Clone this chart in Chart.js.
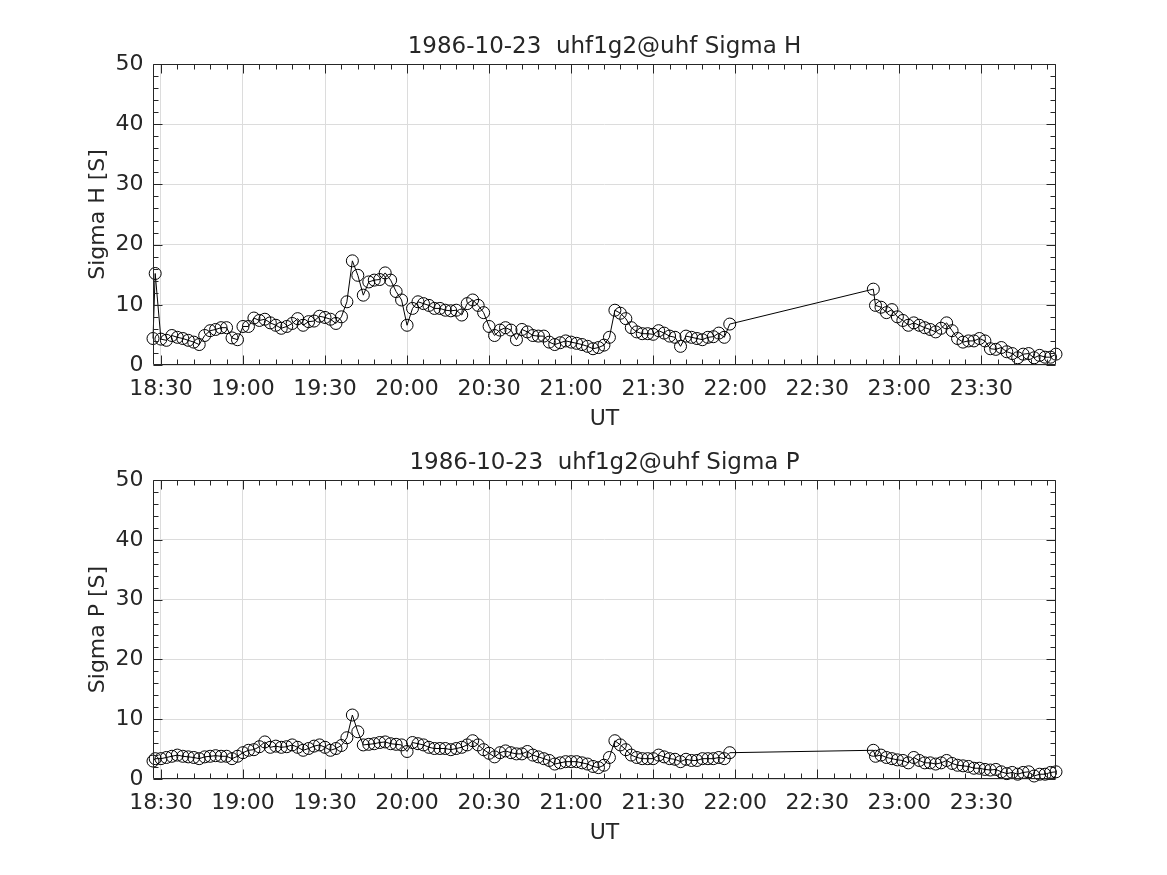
<!DOCTYPE html>
<html>
<head>
<meta charset="utf-8">
<script src="https://cdn.jsdelivr.net/npm/chart.js@4.4.1/dist/chart.umd.min.js"></script>
<style>
  body { margin: 0; background: #fff; }
  canvas { position: absolute; left: 0; }
  #sigmaH { top: 0; }
  #sigmaP { top: 416px; }
</style>
</head>
<body>
<canvas id="sigmaH" width="1167" height="435"></canvas>
<canvas id="sigmaP" width="1167" height="435"></canvas>
<script>
// time axis: minutes after 18:00 UT
// two short lead samples, then a 2-minute cadence in each block
const lead1 = [27.1, 27.9];
const block1Start = 30, block1Step = 2;
const lead2 = [290.5];
const block2Start = 291.3, block2Step = 2;

const sigmaH1 = [4.4, 15.2,
  4.3, 4.1, 4.9, 4.6, 4.4, 4.1, 3.8, 3.4, 4.9, 5.7, 5.9, 6.2, 6.2, 4.5, 4.2,
  6.4, 6.4, 7.8, 7.4, 7.6, 7.0, 6.6, 6.1, 6.4, 6.9, 7.7, 6.6, 7.2, 7.3, 8.1,
  7.9, 7.6, 6.9, 8.0, 10.5, 17.3, 14.9, 11.6, 13.8, 14.1, 14.2, 15.3, 14.1, 12.2, 10.8,
  6.6, 9.4, 10.5, 10.2, 9.9, 9.4, 9.4, 9.1, 9.0, 9.1, 8.3, 10.2, 10.8, 9.9, 8.7,
  6.4, 4.9, 5.8, 6.2, 5.8, 4.2, 5.9, 5.5, 4.9, 4.8, 4.8, 3.8, 3.4, 3.7, 4.0,
  3.8, 3.6, 3.4, 3.1, 2.7, 2.9, 3.3, 4.6, 9.1, 8.6, 7.7, 6.2, 5.5, 5.2, 5.2,
  5.1, 5.7, 5.3, 4.8, 4.6, 3.1, 4.8, 4.6, 4.4, 4.2, 4.6, 4.7, 5.3, 4.6, 6.8];
const sigmaH2 = [12.6,
  9.9, 9.6, 8.7, 9.2, 8.0, 7.4, 6.6, 7.0, 6.6, 6.2, 5.9, 5.5, 6.1, 7.0, 5.7, 4.4, 3.8,
  4.0, 4.0, 4.4, 4.0, 2.7, 2.6, 2.9, 2.2, 1.9, 1.2, 1.8, 1.9, 1.2, 1.6, 1.3, 1.3, 1.8];

const sigmaP1 = [3.0, 3.4,
  3.4, 3.6, 3.8, 4.0, 3.8, 3.7, 3.6, 3.4, 3.7, 3.8, 3.9, 3.8, 3.8, 3.4, 3.8,
  4.4, 4.8, 4.9, 5.4, 6.2, 5.3, 5.5, 5.3, 5.4, 5.7, 5.3, 4.8, 5.1, 5.5, 5.7,
  5.3, 4.8, 5.1, 5.6, 6.9, 10.7, 7.9, 5.7, 5.8, 5.9, 6.1, 6.2, 5.9, 5.8, 5.7,
  4.6, 6.1, 5.9, 5.7, 5.3, 5.1, 5.1, 5.1, 4.9, 5.1, 5.3, 5.7, 6.4, 5.7, 4.9,
  4.3, 3.7, 4.4, 4.7, 4.4, 4.2, 4.2, 4.6, 4.0, 3.7, 3.4, 3.1, 2.5, 2.7, 2.9,
  2.9, 2.9, 2.7, 2.5, 2.1, 1.9, 2.3, 3.6, 6.4, 5.7, 4.9, 4.0, 3.6, 3.4, 3.4,
  3.4, 4.0, 3.7, 3.4, 3.3, 2.9, 3.3, 3.1, 3.1, 3.4, 3.4, 3.4, 3.6, 3.4, 4.4];
const sigmaP2 = [4.8,
  3.8, 4.0, 3.6, 3.4, 3.2, 3.1, 2.7, 3.6, 3.1, 2.7, 2.7, 2.5, 2.7, 3.1, 2.6, 2.3, 2.2,
  2.1, 1.8, 1.8, 1.6, 1.5, 1.6, 1.2, 0.9, 1.1, 0.8, 1.1, 1.2, 0.5, 0.8, 0.8, 1.1, 1.2];

const xTickValues = [30, 60, 90, 120, 150, 180, 210, 240, 270, 300, 330];
const yTickValues = [0, 10, 20, 30, 40, 50];

function sampleTimes(lead, start, step, total) {
  const t = lead.slice();
  for (let i = 0; t.length < total; i++) t.push(start + step * i);
  return t;
}

const ut1 = sampleTimes(lead1, block1Start, block1Step, sigmaH1.length);
const ut2 = sampleTimes(lead2, block2Start, block2Step, sigmaH2.length);
const ut = ut1.concat(ut2);

function fmtUT(v) {
  const h = 18 + Math.floor(v / 60);
  const m = Math.round(v % 60);
  return h + ':' + String(m).padStart(2, '0');
}

const ink = '#262626';
const font = 'DejaVu Sans';

// matlab style box with inward major/minor ticks
const boxTicks = {
  id: 'boxTicks',
  afterDraw(chart) {
    const { ctx, chartArea: a, scales: { x, y } } = chart;
    const L = Math.round(a.left) + 0.5, R = Math.round(a.right) - 0.5;
    const T = Math.round(a.top) + 0.5, B = Math.round(a.bottom) - 0.5;
    ctx.save();
    ctx.strokeStyle = ink;
    ctx.lineWidth = 1;
    ctx.beginPath();
    const xt = (v, len) => {
      const p = Math.round(x.getPixelForValue(v)) + 0.5;
      ctx.moveTo(p, B); ctx.lineTo(p, B - len);
      ctx.moveTo(p, T); ctx.lineTo(p, T + len);
    };
    const yt = (v, len) => {
      const p = Math.round(y.getPixelForValue(v)) + 0.5;
      ctx.moveTo(L, p); ctx.lineTo(L + len, p);
      ctx.moveTo(R, p); ctx.lineTo(R - len, p);
    };
    for (let v = 30; v < x.max; v += 6) xt(v, (v - 30) % 30 === 0 ? 9 : 5);
    for (let v = 0; v <= 50; v += 2) yt(v, v % 10 === 0 ? 9 : 5);
    ctx.rect(L, T, R - L, B - T);
    ctx.stroke();
    ctx.restore();
  }
};

function makeChart(id, title, yLabel, values, areaH, utCenter) {
  const ctx = document.getElementById(id).getContext('2d');
  const canvasH = 435, top = 64;
  new Chart(ctx, {
    type: 'line',
    data: {
      datasets: [{
        data: values.map((v, i) => ({ x: ut[i], y: v })),
        borderColor: '#000',
        borderWidth: 1,
        pointRadius: 6,
        pointBorderWidth: 1,
        pointBorderColor: '#000',
        pointBackgroundColor: 'rgba(0,0,0,0)',
        tension: 0,
        clip: false
      }]
    },
    options: {
      responsive: false,
      animation: false,
      events: [],
      layout: { padding: { left: 0, right: 111, top: 0, bottom: 0 } },
      plugins: {
        legend: { display: false },
        tooltip: { enabled: false },
        title: {
          display: true,
          text: title,
          fullSize: false,
          color: ink,
          font: { family: font, size: 23, weight: 'normal', lineHeight: 1.2 },
          padding: { top: 33, bottom: top - 33 - 27.6 }
        }
      },
      scales: {
        x: {
          type: 'linear',
          min: ut[0],
          max: ut[ut.length - 1],
          afterBuildTicks: s => { s.ticks = xTickValues.map(v => ({ value: v })); },
          afterFit: s => { s.height = canvasH - top - areaH; },
          ticks: {
            color: ink,
            font: { family: font, size: 22 },
            padding: 11,
            maxRotation: 0,
            autoSkip: false,
            callback: v => fmtUT(v)
          },
          grid: { color: '#dcdcdc', drawTicks: false },
          border: { display: false },
          title: {
            display: true,
            text: 'UT',
            color: ink,
            font: { family: font, size: 22, lineHeight: 1.2 },
            padding: { top: 0, bottom: canvasH - 13.2 - utCenter }
          }
        },
        y: {
          min: 0,
          max: 50,
          afterBuildTicks: s => { s.ticks = yTickValues.map(v => ({ value: v })); },
          afterFit: s => { s.width = 153; },
          ticks: {
            color: ink,
            font: { family: font, size: 22 },
            padding: 9.5
          },
          grid: { color: '#dcdcdc', drawTicks: false },
          border: { display: false },
          title: {
            display: true,
            text: yLabel,
            color: ink,
            font: { family: font, size: 22, lineHeight: 1.2 },
            padding: { top: 85, bottom: 0 }
          }
        }
      }
    },
    plugins: [boxTicks]
  });
}

makeChart('sigmaH', '1986-10-23  uhf1g2@uhf Sigma H', 'Sigma H [S]', sigmaH1.concat(sigmaH2), 301, 419);
makeChart('sigmaP', '1986-10-23  uhf1g2@uhf Sigma P', 'Sigma P [S]', sigmaP1.concat(sigmaP2), 299, 417);
</script>
</body>
</html>
